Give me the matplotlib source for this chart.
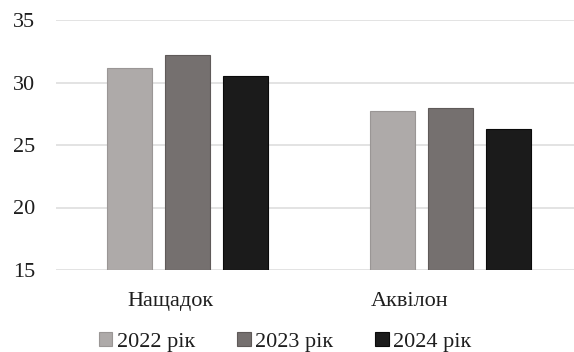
import numpy as np
import matplotlib
matplotlib.use("Agg")
import matplotlib.pyplot as plt

plt.rcParams['font.family'] = 'serif'
plt.rcParams['font.serif'] = ['Liberation Serif', 'Times New Roman', 'DejaVu Serif']

# data
varieties = ['Нащадок', 'Аквілон']
years = ['2022 рік', '2023 рік', '2024 рік']
values_2022 = [31.2, 27.7]
values_2023 = [32.2, 28.0]
values_2024 = [30.5, 26.3]
colors = ['#aeaaa9', '#75706f', '#1b1b1b']
edges = ['#9a9695', '#5f5a59', '#0a0a0a']

fig = plt.figure(figsize=(5.74, 3.52), dpi=100)
ax = fig.add_axes([56 / 574, 1 - 270 / 352, 1 - 56 / 574, (270 - 20) / 352])

x = np.arange(len(varieties))
width = 0.171
step = 0.22
series = [values_2022, values_2023, values_2024]
handles = []
for i, vals in enumerate(series):
    b = ax.bar(x + (i - 1) * step, np.array(vals) - 15, width, bottom=15,
               color=colors[i], edgecolor=edges[i], linewidth=0.8,
               label=years[i], zorder=3)
    handles.append(b)

ax.set_ylim(15, 35)
ax.set_xlim(-0.5, 1.47)
ax.set_yticks([15, 20, 25, 30, 35])
ax.yaxis.grid(True, color='#dedede', linewidth=1.2, zorder=0)
for s in ax.spines.values():
    s.set_visible(False)
ax.tick_params(axis='both', length=0, labelsize=16, colors='#1e1e1e')
ax.tick_params(axis='y', pad=15)
ax.tick_params(axis='x', pad=16)
# category labels sit slightly left of the group centres in the original
ax.set_xticks(x + np.array([-0.063, -0.154]))
ax.set_xticklabels(varieties)

fig.legend(handles=handles, labels=years, loc='center', bbox_to_anchor=(0.497, 1 - 342 / 352),
           ncol=3, frameon=False, fontsize=16, handlelength=0.6, handleheight=0.6,
           handletextpad=0.2, columnspacing=1.9, labelcolor='#1e1e1e')

fig.savefig('out.png', dpi=100)
